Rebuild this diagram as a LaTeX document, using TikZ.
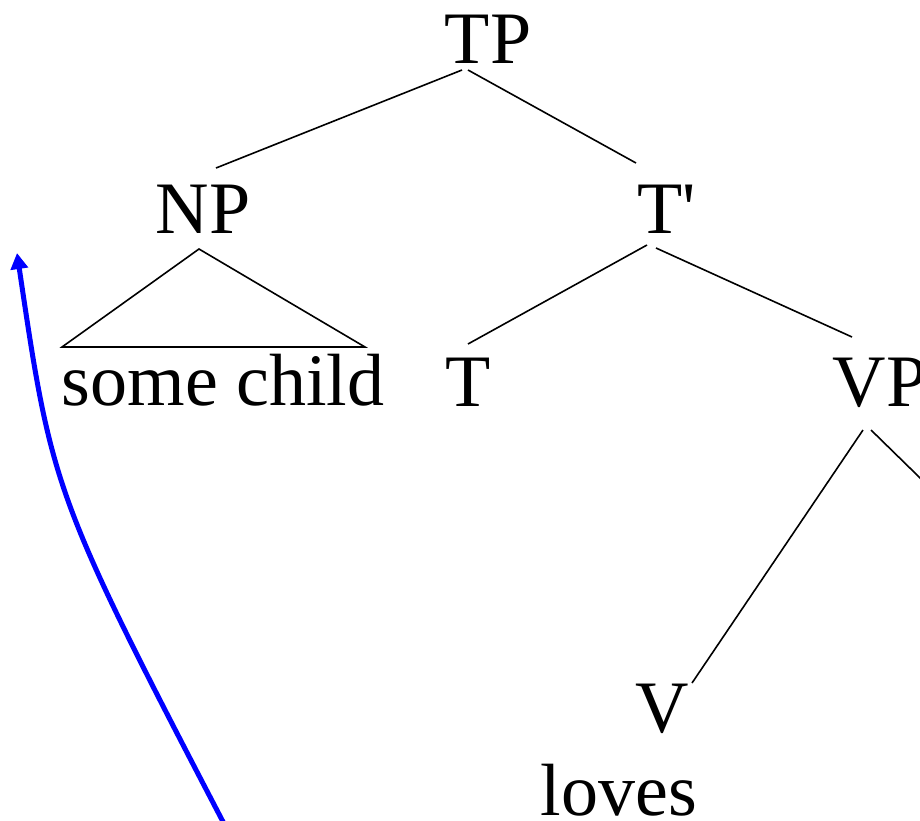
\documentclass[tikz,border=0pt]{standalone}
\usepackage{fontspec}
\setmainfont{Liberation Serif}
\usetikzlibrary{arrows.meta,calc}

\begin{document}
\begin{tikzpicture}[
    x=1pt, y=-1pt,
    cat/.style={inner sep=0pt, anchor=base, font=\fontsize{74}{80}\selectfont},
    word/.style={cat},
    branch/.style={line width=1.6pt},
    move/.style={-{Triangle[length=16pt, width=17pt]}, draw=blue, line width=5pt}
]
\useasboundingbox (0,0) rectangle (920,820);
\clip (0,0) rectangle (920,820);

\node[cat] (tp) at (488,63) {TP};
\node[cat] (np) at (203,233) {NP};
\node[cat] (tbar) at (667,233) {T\textquotesingle};
\node[word] (child) at (223,405) {some child};
\node[cat] (t) at (468,406) {T};
\node[cat] (vp) at (880,406) {VP};
\node[cat] (v) at (662,732) {V};
\node[word] (loves) at (619,815) {loves};

\coordinate (obj) at (960,517);
\coordinate (trace) at (244,862);
\coordinate (landing) at (17,253);

\draw[branch] ($(tp.base)+(-26,7)$) -- ($(np.base)+(13,-65)$);
\draw[branch] ($(tp.base)+(-20,7)$) -- ($(tbar.base)+(-31,-70)$);

\draw[branch] ($(np.base)+(-4,16)$) -- ($(child.base)+(-161,-58)$)
    -- ($(child.base)+(142,-58)$) -- cycle;

\draw[branch] ($(tbar.base)+(-20,12)$) -- ($(t.base)+(0,-62)$);
\draw[branch] ($(tbar.base)+(-11,15)$) -- ($(vp.base)+(-28,-69)$);

\draw[branch] ($(vp.base)+(-17,24)$) -- ($(v.base)+(30,-49)$);
\draw[branch] ($(vp.base)+(-9,24)$) -- (obj);

\draw[move] (trace) .. controls (53,496) .. (landing);
\end{tikzpicture}
\end{document}
